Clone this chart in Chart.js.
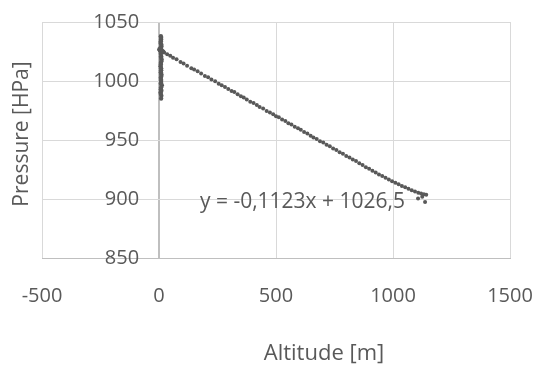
<!DOCTYPE html>
<html>
<head>
<meta charset="utf-8">
<script src="https://cdn.jsdelivr.net/npm/chart.js@4.4.1/dist/chart.umd.min.js"></script>
<style>
  html, body { margin: 0; padding: 0; background: #fff; }
  #wrap { width: 542px; height: 365px; position: relative; }
</style>
</head>
<body>
<div id="wrap"><canvas id="pressureChart"></canvas></div>
<script>
// main descent of the track: altitude [m] and pressure [HPa]
const altitude = [22, 35, 48, 60, 75, 92, 105, 120, 138, 150, 165, 180, 196, 210, 224, 240, 255, 268, 282, 296,
  310, 322, 336, 350, 362, 375, 390, 404, 418, 430, 445, 460, 474, 488, 500, 512, 526, 540, 553, 566,
  580, 594, 606, 620, 634, 648, 660, 674, 688, 702, 716, 730, 744, 758, 772, 786, 800, 814, 828, 842,
  856, 870, 884, 898, 912, 926, 940, 954, 968, 982, 996, 1010, 1024, 1038, 1052, 1066, 1080, 1094, 1108, 1120,
  1132, 1142, 1107, 1125, 1137];
const pressure = [1024.1, 1022.6, 1021.3, 1019.8, 1018.4, 1016.2, 1014.9, 1013.0, 1010.8, 1009.7, 1008.2, 1006.3, 1004.2, 1003.1, 1001.3, 999.8, 997.6, 996.4, 995.0, 993.3,
  991.5, 990.6, 988.8, 987.0, 986.1, 984.4, 982.5, 981.4, 979.6, 978.0, 976.8, 974.6, 973.3, 971.9, 970.1, 969.2, 967.3, 966.0, 964.2, 963.1,
  961.2, 960.0, 958.6, 956.7, 955.5, 953.6, 952.2, 950.9, 949.0, 947.8, 945.9, 944.7, 942.8, 941.5, 939.7, 938.4, 936.5, 935.2, 933.4, 932.1,
  930.2, 928.9, 927.0, 925.6, 923.9, 922.4, 920.8, 919.5, 918.0, 916.6, 915.1, 913.7, 912.4, 911.1, 909.9, 908.6, 907.4, 906.3, 905.3, 904.6,
  904.0, 903.6, 900.5, 902.0, 897.5];

// readings taken while standing near the start
const startAltitude = [3, 6, 8, 9, 7, 10, 8, 9, 11, 8, 7, 9, 10, 8, 9, 12, 8, 7, 10, 9, 8, 2, 4, 14, 18,
  9, 8, 10, 9, 8, 9, 10, 8, 9, 8, 10, 9, 8, 9, 10, 8];
const startPressure = [1026.5, 1027.8, 1038.0, 1035.2, 1032.1, 1029.4, 1024.6, 1021.0, 1018.3, 1015.2, 1012.4, 1009.1, 1005.8, 1002.7, 999.1, 996.4, 993.0, 990.2, 987.6, 985.2, 1025.3, 1027.0, 1026.1, 1025.4, 1024.8,
  1036.6, 1033.7, 1030.8, 1027.9, 1023.0, 1019.6, 1016.8, 1013.9, 1010.7, 1007.4, 1004.3, 1000.9, 997.8, 994.6, 991.7, 988.9];

const xTicks = [-500, 0, 500, 1000, 1500];
const yTicks = [850, 900, 950, 1000, 1050];
const trendLabel = 'y = -0,1123x + 1026,5';
const xTitle = 'Altitude [m]';
const yTitle = 'Pressure [HPa]';

const textColor = '#595959';
const font = { family: '"Open Sans", sans-serif', size: 20 };

const extraText = {
  id: 'extraText',
  afterDraw(chart) {
    const c = chart.ctx;
    const xs = chart.scales.x, ys = chart.scales.y;
    c.save();
    c.fillStyle = textColor;
    c.font = '21px "Open Sans", sans-serif';
    c.textBaseline = 'middle';
    c.textAlign = 'left';
    c.fillText(trendLabel, xs.getPixelForValue(175), ys.getPixelForValue(897.5));
    c.textAlign = 'center';
    c.font = '22px "Open Sans", sans-serif';
    c.fillText(xTitle, 324, 354);
    c.font = '21px "Open Sans", sans-serif';
    c.translate(22, 134);
    c.rotate(-Math.PI / 2);
    c.fillText(yTitle, 0, 0);
    c.restore();
  }
};

const points = altitude.map((a, i) => ({ x: a, y: pressure[i] }));
const startPoints = startAltitude.map((a, i) => ({ x: a, y: startPressure[i] }));

new Chart(document.getElementById('pressureChart'), {
  type: 'scatter',
  data: {
    datasets: [
      { data: points, backgroundColor: '#595959', borderColor: '#595959', pointRadius: 2, borderWidth: 0 },
      { data: startPoints, backgroundColor: '#595959', borderColor: '#595959', pointRadius: 2.2, borderWidth: 0 }
    ]
  },
  options: {
    responsive: true,
    maintainAspectRatio: false,
    animation: false,
    layout: { padding: { left: 42, right: 32, top: 22, bottom: 54 } },
    plugins: { legend: { display: false }, tooltip: { enabled: false } },
    scales: {
      x: {
        type: 'linear',
        min: -500, max: 1500,
        afterBuildTicks: s => { s.ticks = xTicks.map(v => ({ value: v })); },
        grid: {
          color: ctx => ctx.tick && ctx.tick.value === 0 ? '#bfbfbf' : '#d9d9d9',
          lineWidth: ctx => ctx.tick && ctx.tick.value === 0 ? 2 : 1,
          drawTicks: true, tickLength: 23, tickColor: 'rgba(0,0,0,0)'
        },
        border: { color: '#bfbfbf', width: 1 },
        ticks: { color: textColor, font: font, padding: 3, maxRotation: 0, callback: v => String(v) }
      },
      y: {
        type: 'linear',
        // labels sit just left of the vertical axis at x = 0
        position: { x: -85 },
        min: 850, max: 1050,
        afterBuildTicks: s => { s.ticks = yTicks.map(v => ({ value: v })); },
        grid: { color: '#d9d9d9', drawTicks: false },
        border: { display: false },
        ticks: { color: textColor, font: font, padding: 0, callback: v => String(v) }
      }
    }
  },
  plugins: [extraText]
});
</script>
</body>
</html>
